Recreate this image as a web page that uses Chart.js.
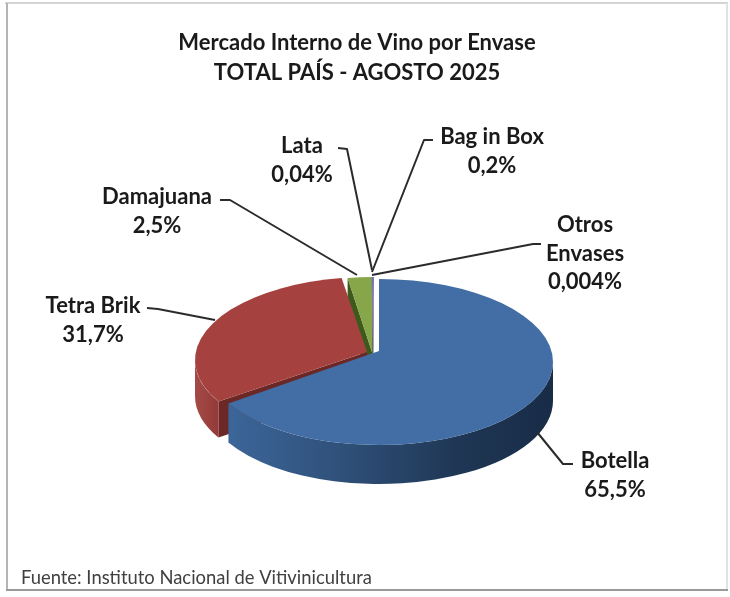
<!DOCTYPE html>
<html>
<head>
<meta charset="utf-8">
<style>
    html, body { margin: 0; padding: 0; background: #fff; }
    #wrap { position: relative; width: 730px; height: 597px; }
</style>
<script src="https://cdn.jsdelivr.net/npm/chart.js@4"></script>
</head>
<body>
<div id="wrap"><canvas id="pieChart" width="730" height="597"></canvas></div>
<script>
const categories = ['Botella', 'Tetra Brik', 'Damajuana', 'Lata', 'Bag in Box', 'Otros Envases'];
const values = [65.5, 31.7, 2.5, 0.04, 0.2, 0.004];
const valueLabels = ['65,5%', '31,7%', '2,5%', '0,04%', '0,2%', '0,004%'];
const titleLines = ['Mercado Interno de Vino por Envase', 'TOTAL PAÍS - AGOSTO 2025'];
const sourceText = 'Fuente: Instituto Nacional de Vitivinicultura';

const sliceColors = ['#426da5', '#a5413f', '#86a649', '#4198af', '#7b6bb0', '#db843d'];
const cutColors = ['#1f3553', '#6b2826', '#3d5a1c', '#2a6475', '#4b3d6d', '#8a5022'];

// ellipse centre and apex of each exploded slice, in page pixels
const sliceCentres = [
    [379, 362], [369, 360], [375, 360], [374, 360], [374, 360], [374, 360]
];
const sliceApexes = [
    [379, 351], [367, 352], [372, 352], [373, 352], [373, 352], [373, 352]
];
const RX = 174;
const RY = 83;
const DEPTH = 39;
const RED_DEPTH = 36;

// label text position (centre of first line) and spacing per category
const labelPos = [[615, 461], [93, 306], [157, 197], [302, 146], [492, 137], [585, 225]];
const LINE_H = 28.5;
const leaders = [
    [[573, 464], [563, 464], [537, 432]],
    [[147, 308], [158, 309], [215, 320]],
    [[220, 200], [230, 200], [357, 275]],
    [[338, 148], [347, 149], [372, 270]],
    [[433, 140], [424, 140], [372, 272]],
    [[541, 244], [533, 244], [372, 275]]
];

// perspective: slices on the sides look pushed towards the back
function warp(a) {
    return a - 0.084 * Math.cos(a);
}

function ellipsePoint(c, t, dy = 0) {
    return [c[0] + RX * Math.cos(t), c[1] + RY * Math.sin(t) + dy];
}

function drawWall(ctx, c, t0, t1, fill, depth) {
    ctx.beginPath();
    ctx.ellipse(c[0], c[1], RX, RY, 0, t0, t1);
    ctx.ellipse(c[0], c[1] + depth, RX, RY, 0, t1, t0, true);
    ctx.closePath();
    ctx.fillStyle = fill;
    ctx.fill();
}

function drawCut(ctx, apex, p, fill, depth) {
    ctx.beginPath();
    ctx.moveTo(apex[0], apex[1]);
    ctx.lineTo(p[0], p[1]);
    ctx.lineTo(p[0], p[1] + depth);
    ctx.lineTo(apex[0], apex[1] + depth);
    ctx.closePath();
    ctx.fillStyle = fill;
    ctx.fill();
}

const pie3d = {
    id: 'pie3d',
    beforeDraw(chart) {
        const ctx = chart.ctx;
        ctx.save();
        ctx.fillStyle = '#fff';
        ctx.fillRect(0, 0, 730, 597);
        // frame
        ctx.fillStyle = '#d4d4d4';
        ctx.fillRect(5, 2, 723, 2);
        ctx.fillStyle = '#e2e2e2';
        ctx.fillRect(726, 3, 2, 588);
        ctx.fillStyle = '#b4b4b4';
        ctx.fillRect(6, 3, 2, 588);
        ctx.fillStyle = '#9a9a9a';
        ctx.fillRect(6, 589, 722, 2);
        ctx.restore();
    },
    // slices are laid out by the pie controller, the tilted view is painted here from their angles
    beforeDatasetsDraw(chart) {
        const ctx = chart.ctx;
        const arcs = chart.getDatasetMeta(0).data;
        const angles = arcs.map(a => [warp(a.startAngle), warp(a.endAngle)]);
        ctx.save();

        // back to front: thin slices and green, then red, then blue
        for (let i = arcs.length - 1; i >= 2; i--) {
            const p = ellipsePoint(sliceCentres[i], angles[i][0]);
            drawCut(ctx, sliceApexes[i], p, cutColors[i], DEPTH);
        }

        const redEnd = ellipsePoint(sliceCentres[1], angles[1][0]);
        drawCut(ctx, sliceApexes[1], redEnd, cutColors[1], RED_DEPTH);
        const redGrad = ctx.createLinearGradient(196, 0, 225, 0);
        redGrad.addColorStop(0, '#a34a47');
        redGrad.addColorStop(1, '#8f3634');
        drawWall(ctx, sliceCentres[1], angles[1][0], Math.PI, redGrad, RED_DEPTH);

        const blueGrad = ctx.createLinearGradient(228, 0, 553, 0);
        blueGrad.addColorStop(0, '#3c6699');
        blueGrad.addColorStop(0.35, '#2f5079');
        blueGrad.addColorStop(0.7, '#1f3755');
        blueGrad.addColorStop(1, '#182c47');
        drawWall(ctx, sliceCentres[0], 0, angles[0][1], blueGrad, DEPTH);

        // top faces
        arcs.forEach((arc, i) => {
            const c = sliceCentres[i];
            const apex = sliceApexes[i];
            ctx.beginPath();
            ctx.moveTo(apex[0], apex[1]);
            ctx.ellipse(c[0], c[1], RX, RY, 0, angles[i][0], angles[i][1]);
            ctx.closePath();
            ctx.fillStyle = sliceColors[i];
            ctx.fill();
        });
        ctx.restore();
        return false;
    },
    afterDraw(chart) {
        const ctx = chart.ctx;
        ctx.save();
        ctx.strokeStyle = '#2b2b2b';
        ctx.lineWidth = 2;
        ctx.lineJoin = 'round';
        leaders.forEach(pts => {
            ctx.beginPath();
            ctx.moveTo(pts[0][0], pts[0][1]);
            ctx.lineTo(pts[1][0], pts[1][1]);
            ctx.lineTo(pts[2][0], pts[2][1]);
            ctx.stroke();
        });

        ctx.fillStyle = '#1a1a1a';
        ctx.font = 'bold 22px Lato';
        ctx.textAlign = 'center';
        ctx.textBaseline = 'middle';
        categories.forEach((name, i) => {
            const lines = i === 5 ? ['Otros', 'Envases', valueLabels[i]] : [name, valueLabels[i]];
            lines.forEach((line, j) => {
                ctx.fillText(line, labelPos[i][0], labelPos[i][1] + j * LINE_H);
            });
        });
        ctx.restore();
    }
};

new Chart(document.getElementById('pieChart'), {
    type: 'pie',
    data: {
        labels: categories,
        datasets: [{
            data: values,
            backgroundColor: sliceColors,
            borderWidth: 0
        }]
    },
    options: {
        responsive: false,
        animation: false,
        radius: RX,
        plugins: {
            legend: { display: false },
            tooltip: { enabled: false },
            title: {
                display: true,
                text: titleLines,
                color: '#1a1a1a',
                font: { family: 'Lato', size: 22, weight: 'bold', lineHeight: 1.36 },
                padding: { top: 28, bottom: 0 }
            },
            subtitle: {
                display: true,
                position: 'bottom',
                align: 'start',
                text: sourceText,
                color: '#404040',
                font: { family: 'Lato', size: 18.4, weight: 'normal' },
                padding: { top: 0, bottom: 8, left: 0 }
            }
        },
        layout: { padding: { left: 21, right: 37, top: 0, bottom: 0 } }
    },
    plugins: [pie3d]
});
</script>
</body>
</html>
